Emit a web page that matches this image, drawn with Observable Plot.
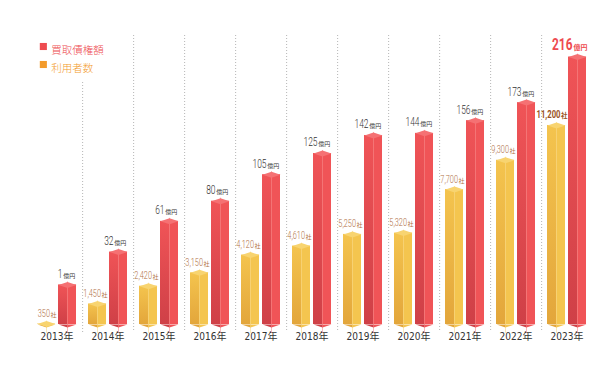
<!DOCTYPE html>
<html>
<head>
<meta charset="utf-8">
<script src="https://cdn.jsdelivr.net/npm/d3@7"></script>
<script src="https://cdn.jsdelivr.net/npm/@observablehq/plot@0.6"></script>
<style>
  body { margin: 0; background: #fff; }
  #chart { width: 612px; height: 376px; }
</style>
</head>
<body>
<div id="chart"></div>
<script>
// ---- data ----
const years = ["2013","2014","2015","2016","2017","2018","2019","2020","2021","2022","2023"];
const sales = [1, 32, 61, 80, 105, 125, 142, 144, 156, 173, 216];          // 買取債権額 (億円)
const users = [350, 1450, 2420, 3150, 4120, 4610, 5250, 5320, 7700, 9300, 11200]; // 利用者数 (社)
const seriesNames = ["買取債権額", "利用者数"];
const legendColors = ["#ee4b50", "#f39b2b"];
const salesUnit = "億円";
const usersUnit = "社";
const yearSuffix = "年";

// ---- chart constants ----
const BASE = -42;            // pictorial baseline of the y scale
const USERS_PER_UNIT = 57.9; // users drawn on the same pictorial scale
const NUMFONT = 'Roboto, "Noto Sans", sans-serif';
const CJK = '"Noto Sans CJK JP", sans-serif';

const rows = years.map((year, i) => ({
  year, sales: sales[i], users: users[i], last: i === years.length - 1
}));
const regular = rows.filter(d => !d.last);
const highlight = rows.filter(d => d.last);
const usersY = d => BASE + d.users / USERS_PER_UNIT;
const fmt = d3.format(",");

const HW = 9;
const capSymbol = {draw(c) { c.moveTo(-HW, 3); c.lineTo(0, 0); c.lineTo(HW, 3); c.lineTo(0, 6); c.closePath(); }};
const vLeft = {draw(c) { c.moveTo(-HW, -3); c.lineTo(0, -3); c.lineTo(0, 0); c.closePath(); }};
const vRight = {draw(c) { c.moveTo(0, -3); c.lineTo(HW, -3); c.lineTo(0, 0); c.closePath(); }};

const C = {
  redLeft: "url(#gRedLeft)", redRight: "#f05457", redCap: "#f57173", redBottom: "#cf4047", redLine: "#f78a8a",
  yelLeft: "url(#gYelLeft)", yelRight: "#f4c54f", yelCap: "#f8d470", yelBottom: "#e3a63b", yelLine: "#f9d98a"
};

function bars(yFn, left, right, inL, inR, inL2, inR2) {
  return [
    Plot.barY(rows, {x: "year", y1: () => BASE, y2: yFn, insetTop: 3, insetBottom: 3, insetLeft: inL, insetRight: inR, fill: left}),
    Plot.barY(rows, {x: "year", y1: () => BASE, y2: yFn, insetTop: 3, insetBottom: 3, insetLeft: inL2, insetRight: inR2, fill: right})
  ];
}

const chart = Plot.plot({
  width: 612,
  height: 376,
  marginTop: 35,
  marginBottom: 49,
  marginLeft: 24.35,
  marginRight: 13.65,
  style: {fontFamily: '"DejaVu Sans Condensed", "Noto Sans CJK JP", sans-serif', fontSize: "10px", color: "#333", background: "#fff"},
  x: {type: "band", domain: years, padding: 0.2, axis: "bottom", tickSize: 0, tickPadding: 5,
      tickFormat: d => d + yearSuffix, label: null},
  y: {domain: [BASE, 233.5], axis: null},
  marks: [
    // dotted separators between years
    Plot.ruleX(years.slice(1, -1), {x: d => d, dx: 25.625, stroke: "#b5b5b5", strokeDasharray: "1,2", insetBottom: -5}),
    Plot.ruleX(years.slice(0, 1), {x: d => d, dx: 25.625, stroke: "#b5b5b5", strokeDasharray: "1,2", insetBottom: -5, insetTop: 47}),

    // users (yellow)
    ...bars(usersY, C.yelLeft, C.yelRight, 1, 31, 10, 22),
    Plot.ruleX(rows, {x: "year", y1: () => BASE, y2: usersY, dx: -10.5, insetTop: 6, stroke: C.yelLine, strokeWidth: 0.6}),
    Plot.dot(rows, {x: "year", y: () => BASE, dx: -10.5, symbol: vLeft, fill: C.yelBottom}),
    Plot.dot(rows, {x: "year", y: () => BASE, dx: -10.5, symbol: vRight, fill: C.yelRight}),
    Plot.dot(rows, {x: "year", y: usersY, dx: -10.5, symbol: capSymbol, fill: C.yelCap}),

    // sales (red)
    ...bars("sales", C.redLeft, C.redRight, 22, 10, 31, 1),
    Plot.ruleX(rows, {x: "year", y1: () => BASE, y2: "sales", dx: 10.5, insetTop: 6, stroke: C.redLine, strokeWidth: 0.6}),
    Plot.dot(rows, {x: "year", y: () => BASE, dx: 10.5, symbol: vLeft, fill: C.redBottom}),
    Plot.dot(rows, {x: "year", y: () => BASE, dx: 10.5, symbol: vRight, fill: C.redRight}),
    Plot.dot(rows, {x: "year", y: "sales", dx: 10.5, symbol: capSymbol, fill: C.redCap}),

    // sales labels (numbers are narrowed afterwards)
    Plot.text(regular, {x: "year", y: "sales", text: d => String(d.sales), dx: 5.5, dy: -4, textAnchor: "end", lineAnchor: "bottom", fontSize: 12, fontWeight: 300, fontFamily: NUMFONT, fill: "#333"}),
    Plot.text(regular, {x: "year", y: "sales", text: () => salesUnit, dx: 6.2, dy: -4, textAnchor: "start", lineAnchor: "bottom", fontSize: 6, fontFamily: CJK, fill: "#333"}),
    Plot.text(highlight, {x: "year", y: "sales", text: d => String(d.sales), dx: 5.5, dy: -4, textAnchor: "end", lineAnchor: "bottom", fontSize: 17, fontWeight: "bold", fontFamily: NUMFONT, fill: "#ee4b50"}),
    Plot.text(highlight, {x: "year", y: "sales", text: () => salesUnit, dx: 6.5, dy: -4, textAnchor: "start", lineAnchor: "bottom", fontSize: 7, fontWeight: "bold", fontFamily: CJK, fill: "#ee4b50"}),

    // users labels
    Plot.text(regular, {x: "year", y: usersY, text: d => fmt(d.users), dx: -7, dy: -4, textAnchor: "end", lineAnchor: "bottom", fontSize: 10.5, fontWeight: 300, fontFamily: NUMFONT, fill: "#b0703f"}),
    Plot.text(regular, {x: "year", y: usersY, text: () => usersUnit, dx: -6.5, dy: -4, textAnchor: "start", lineAnchor: "bottom", fontSize: 6, fontFamily: CJK, fill: "#b0703f"}),
    Plot.text(highlight, {x: "year", y: usersY, text: d => fmt(d.users), dx: -6.5, dy: -4, textAnchor: "end", lineAnchor: "bottom", fontSize: 11, fontWeight: "bold", fontFamily: NUMFONT, fill: "#9a5424"}),
    Plot.text(highlight, {x: "year", y: usersY, text: () => usersUnit, dx: -6, dy: -4, textAnchor: "start", lineAnchor: "bottom", fontSize: 6.5, fontWeight: "bold", fontFamily: CJK, fill: "#9a5424"}),

    // legend
    ...seriesNames.flatMap((name, i) => [
      Plot.dot([name], {frameAnchor: "top-left", dx: 18.5, dy: 11 + i * 18, symbol: "square", r: 4, fill: legendColors[i]}),
      Plot.text([name], {frameAnchor: "top-left", dx: 26.5, dy: 11.5 + i * 18, text: d => d, textAnchor: "start", fontSize: 10.5,
        fontFamily: CJK, fontWeight: 300, fill: legendColors[i]})
    ])
  ]
});

// gradients for the shaded left faces
const defs = d3.select(chart).insert("defs", ":first-child");
function grad(id, top, bottom) {
  const g = defs.append("linearGradient").attr("id", id).attr("x1", 0).attr("y1", 0).attr("x2", 0).attr("y2", 1);
  g.append("stop").attr("offset", "0%").attr("stop-color", top);
  g.append("stop").attr("offset", "100%").attr("stop-color", bottom);
}
grad("gRedLeft", "#f05457", "#cf4047");
grad("gYelLeft", "#f4c44e", "#e3a63b");

// condensed look for the numeric labels
d3.select(chart).selectAll('g[aria-label="text"]').filter(function() {
  return (this.getAttribute("font-family") || "").startsWith("Roboto");
}).selectAll("text").attr("transform", function() {
  return (this.getAttribute("transform") || "") + " scale(0.7,1)";
});

document.getElementById("chart").appendChild(chart);
</script>
</body>
</html>
